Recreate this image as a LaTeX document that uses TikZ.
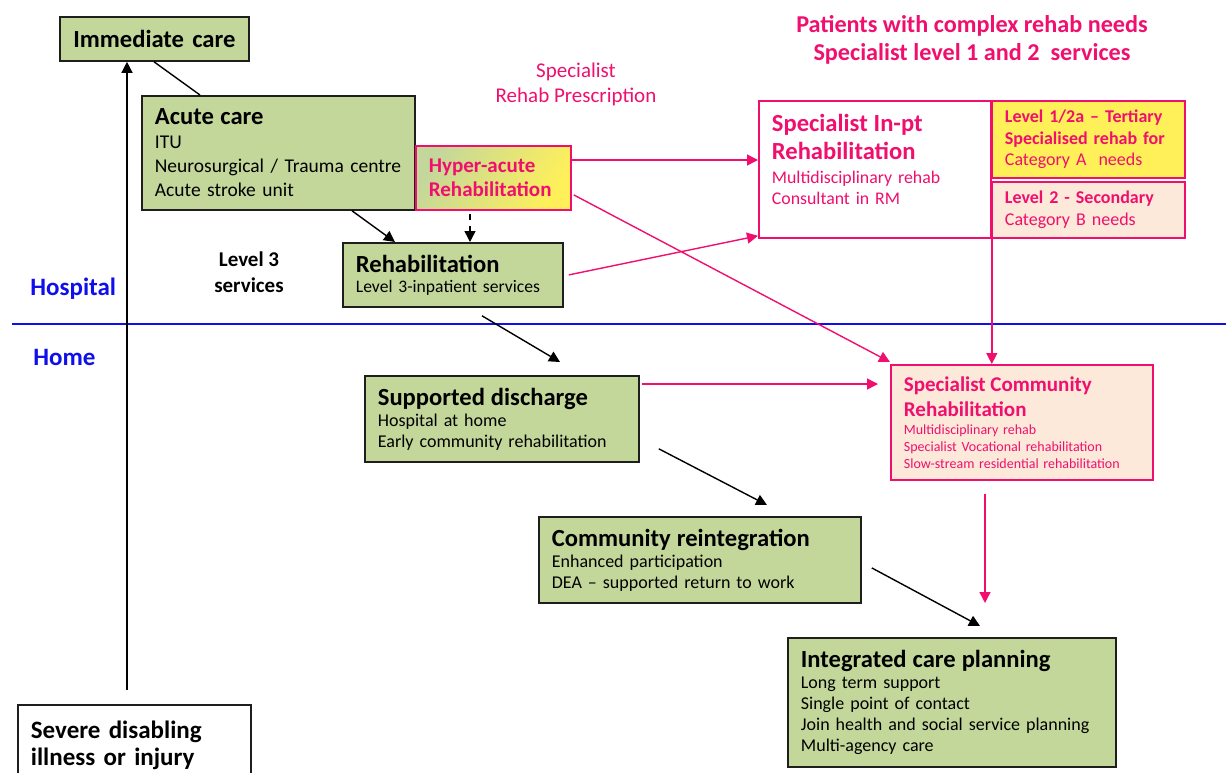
\documentclass[tikz,border=0pt]{standalone}
\usepackage{fontspec}
\setmainfont{Carlito}
\usetikzlibrary{arrows.meta}
\definecolor{greenfill}{RGB}{196,215,155}
\definecolor{boxline}{RGB}{30,30,30}
\definecolor{pinkline}{RGB}{240,15,110}
\definecolor{yellowfill}{RGB}{255,240,90}
\definecolor{peachfill}{RGB}{253,233,217}
\definecolor{hospblue}{RGB}{15,15,235}
\newcommand\boxfont[2]{\fontsize{#1}{#2}\selectfont\lineskiplimit=-20pt\relax}
\newcommand\hd[2][12.3]{{\fontsize{#1}{#1}\selectfont\bfseries #2}}

\begin{document}
\begin{tikzpicture}[x=0.5pt,y=-0.5pt,
  greenbox/.style={draw=boxline, line width=0.9pt, fill=greenfill, anchor=north west, align=left, inner xsep=6.5pt, inner ysep=1pt},
  pinkbox/.style={draw=pinkline, line width=0.9pt, text=pinkline, anchor=north west, align=left, inner xsep=6.5pt, inner ysep=1pt},
  arr/.style={-{Triangle[length=5.5pt,width=5.5pt]}, line width=0.7pt},
  pinkarr/.style={arr, draw=pinkline}]
\useasboundingbox (0,0) rectangle (1226,772);

% hospital / home divider
\draw[hospblue, line width=1pt] (12,324) -- (1226,324);
\node[text=hospblue, anchor=base west, inner sep=0pt, font=\fontsize{12.5}{14}\selectfont\bfseries] (hosp) at (30,295) {Hospital};
\node[text=hospblue, anchor=base west, inner sep=0pt, font=\fontsize{12.5}{14}\selectfont\bfseries] (home) at (33,365) {Home};

% free texts
\node[text=pinkline, align=center, font=\boxfont{12.1}{14.2}\bfseries] (title) at (972,40) {Patients with complex rehab needs\\Specialist level 1 and 2\ \ services};
\node[text=pinkline, align=center, font=\boxfont{10.5}{12.5}] (rx) at (576,84) {Specialist\\Rehab Prescription};
\node[align=center, font=\boxfont{10.5}{13}\bfseries] (lvl3) at (249,272) {Level 3\\services};

% boxes
\node[greenbox, text width=81.5pt, minimum height=22pt, align=center, font=\boxfont{12.3}{13}\bfseries] (imm) at (59,16) {Immediate care};
\node[greenbox, text width=123.5pt, minimum height=57pt, font=\boxfont{9.75}{12}] (acute) at (141,95) {\hd{Acute care}\\ITU\\Neurosurgical / Trauma centre\\Acute stroke unit};
\node[pinkbox, left color=greenfill, right color=yellowfill, shading angle=60, text width=64.5pt, minimum height=32pt, font=\boxfont{10.5}{12}\bfseries] (hyper) at (415,145) {Hyper-acute\\Rehabilitation};
\node[greenbox, text width=97pt, minimum height=32pt, font=\boxfont{8.8}{10}] (rehab) at (342,242) {\hd{Rehabilitation}\\Level 3-inpatient services};
\node[pinkbox, fill=white, text width=103pt, minimum height=68.5pt, font=\boxfont{8.9}{10.3}] (inpt) at (758,100) {\hd{Specialist In-pt}\\[3.9pt]\hd{Rehabilitation}\\[1.5pt]Multidisciplinary rehab\\Consultant in RM\\\mbox{}};
\node[pinkbox, fill=yellowfill, text width=83.5pt, minimum height=38.5pt, font=\boxfont{9}{10.7}] (lvla) at (991,100) {\textbf{Level 1/2a -- Tertiary}\\\textbf{Specialised rehab for}\\Category A\ \ needs};
\node[pinkbox, fill=peachfill, text width=83.5pt, minimum height=28pt, font=\boxfont{9}{10.7}] (lvlb) at (991,181) {\textbf{Level 2 - Secondary}\\Category B needs};
\node[pinkbox, fill=peachfill, text width=118pt, minimum height=57.5pt, font=\boxfont{7}{8.5}] (comm) at (890,364) {\hd[10.5]{Specialist Community}\\[4pt]\hd[10.5]{Rehabilitation}\\[0.5pt]Multidisciplinary rehab\\Specialist Vocational rehabilitation\\Slow-stream residential rehabilitation};
\node[greenbox, text width=124pt, minimum height=43pt, font=\boxfont{9}{10.5}] (supp) at (364,375) {\hd{Supported discharge}\\Hospital at home\\Early community rehabilitation};
\node[greenbox, text width=148pt, minimum height=43pt, font=\boxfont{9}{10.5}] (reint) at (538,516) {\hd{Community reintegration}\\Enhanced participation\\DEA -- supported return to work};
\node[greenbox, text width=151pt, minimum height=64.5pt, font=\boxfont{9}{10.5}] (integ) at (787,637) {\hd{Integrated care planning}\\Long term support\\Single point of contact\\Join health and social service planning\\Multi-agency care};
\node[greenbox, fill=white, text width=103.5pt, minimum height=40pt, font=\boxfont{12.5}{13.5}\bfseries] (severe) at (17,704) {Severe disabling\\illness or injury};

% black connectors
\coordinate (s0) at ([shift={(110,-14)}]severe.north west);
\draw[arr] (s0) -- (s0 |- imm.south);
\draw[line width=0.7pt] ([xshift=47.5pt]imm.south west) -- ([xshift=29.5pt]acute.north west);
\draw[arr] ([xshift=105.5pt]acute.south west) -- ([xshift=26.5pt]rehab.north west);
\coordinate (h1) at ([xshift=27.5pt,yshift=-1.5pt]hyper.south west);
\draw[arr, dashed] (h1) -- (h1 |- rehab.north);
\draw[arr] ([shift={(140,8)}]rehab.south west) -- ([shift={(196,-13)}]supp.north west);
\draw[arr] ([shift={(19,-14)}]supp.south east) -- ([shift={(229,-11)}]reint.north west);
\draw[arr] ([shift={(10,8)}]reint.east) -- ([shift={(193,-11)}]integ.north west);

% pink connectors
\coordinate (h2) at ([yshift=-7.5pt]hyper.north east);
\draw[pinkarr] (h2) -- (h2 -| inpt.west);
\draw[pinkarr] ([xshift=2.5pt]rehab.east) -- ([yshift=1.5pt]inpt.south west);
\draw[pinkarr] ([shift={(2,17)}]hyper.east) -- ([shift={(0,-2)}]comm.north west);
\coordinate (s1) at ([shift={(2,9)}]supp.north east);
\coordinate (c1) at ([xshift=-6pt]comm.west);
\draw[pinkarr] (s1) -- (s1 -| c1);
\draw[pinkarr] (inpt.south east) -- (inpt.south east |- comm.north);
\coordinate (c2) at ([shift={(95,13)}]comm.south west);
\coordinate (i1) at ([yshift=17pt]integ.north);
\draw[pinkarr] (c2) -- (c2 |- i1);
\end{tikzpicture}
\end{document}
